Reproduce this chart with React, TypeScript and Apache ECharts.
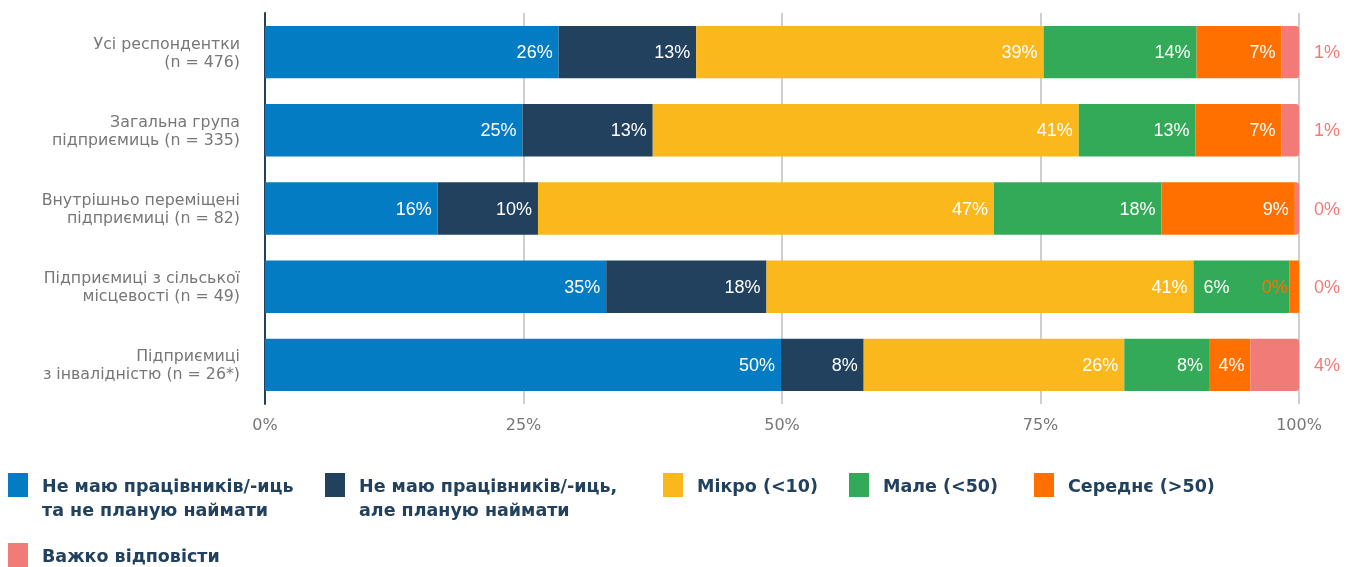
import React, { useEffect, useRef } from "react";
import * as echarts from "echarts";

const categories = [
  "Усі респондентки\n(n = 476)",
  "Загальна група\nпідприємиць (n = 335)",
  "Внутрішньо переміщені\nпідприємиці (n = 82)",
  "Підприємиці з сільської\nмісцевості (n = 49)",
  "Підприємиці\nз інвалідністю (n = 26*)",
];

const seriesNames = [
  "Не маю працівників/-иць\nта не планую наймати",
  "Не маю працівників/-иць,\nале планую наймати",
  "Мікро (<10)",
  "Мале (<50)",
  "Середнє (>50)",
  "Важко відповісти",
];

const colors = ["#047cc4", "#21415f", "#fbb81c", "#33aa57", "#ff7000", "#f17b77"];

// segment lengths as drawn
const noHireValues = [28.4, 24.9, 16.7, 33.0, 49.9];
const planHireValues = [13.3, 12.6, 9.7, 15.5, 8.0];
const microValues = [33.6, 41.2, 44.1, 41.3, 25.2];
const smallValues = [14.8, 11.3, 16.2, 9.3, 8.2];
const mediumValues = [8.2, 8.3, 12.9, 0.9, 4.0];
const hardValues = [1.7, 1.7, 0.4, 0, 4.7];

// printed labels
const noHireLabels = [26, 25, 16, 35, 50];
const planHireLabels = [13, 13, 10, 18, 8];
const microLabels = [39, 41, 47, 41, 26];
const smallLabels = [14, 13, 18, 6, 8];
const mediumLabels = [7, 7, 9, 0, 4];
const hardLabels = [1, 1, 0, 0, 4];

const xTicks = [0, 25, 50, 75, 100];

const allValues = [noHireValues, planHireValues, microValues, smallValues, mediumValues, hardValues];
const allLabels = [noHireLabels, planHireLabels, microLabels, smallLabels, mediumLabels, hardLabels];

const axisFont = '"DejaVu Sans", "Noto Sans", sans-serif';

export default function App() {
  const ref = useRef<HTMLDivElement>(null);

  useEffect(() => {
    if (!ref.current) return;
    const chart = echarts.init(ref.current, null, { renderer: "svg" });
    const last = allValues.length - 1;

    const series = allValues.map((vals, si) => {
      const isLast = si === last;
      return {
        name: seriesNames[si],
        type: "bar",
        stack: "total",
        barCategoryGap: "33%",
        itemStyle: {
          color: colors[si],
          borderRadius: isLast ? [0, 3, 3, 0] : 0,
        },
        label: {
          show: true,
          position: isLast ? "right" : "insideRight",
          distance: isLast ? 15 : 6,
          color: isLast ? "#f17b77" : "#ffffff",
          fontSize: 18,
          fontFamily: "Liberation Sans, Arial, sans-serif",
          formatter: (p: any) => allLabels[si][p.dataIndex] + "%",
        },
        data: vals.map((v, di) => {
          if (!isLast && v < 3) {
            // too thin: label sits to the left, in the segment's colour
            return { value: v, label: { position: "left", distance: 2, color: colors[si] } };
          }
          const next = si + 1 < last ? allValues[si + 1][di] : 99;
          if (!isLast && next < 3) {
            return { value: v, label: { position: "insideLeft", distance: 10 } };
          }
          return v;
        }),
      };
    });

    const legendPos = [
      { x: 8, y: 473 },
      { x: 325, y: 473 },
      { x: 663, y: 473 },
      { x: 849, y: 473 },
      { x: 1034, y: 473 },
      { x: 8, y: 543 },
    ];

    const graphic: any[] = [];
    seriesNames.forEach((name, i) => {
      const p = legendPos[i];
      graphic.push({
        type: "rect",
        shape: { x: p.x, y: p.y, width: 20, height: 24 },
        style: { fill: colors[i] },
      });
      graphic.push({
        type: "text",
        x: p.x + 34,
        y: p.y + 1,
        style: {
          text: name,
          font: 'bold 17.5px "DejaVu Sans", sans-serif',
          fill: "#21415f",
          lineHeight: 24,
          verticalAlign: "top",
        },
      });
    });

    chart.setOption({
      animation: false,
      grid: { left: 265, right: 55, top: 13, height: 391 },
      xAxis: {
        type: "value",
        min: 0,
        max: 100,
        interval: 25,
        axisLine: { show: false },
        axisTick: { show: false },
        splitLine: { lineStyle: { color: "#cfcfcf", width: 2 } },
        axisLabel: {
          formatter: (v: number) => (xTicks.includes(v) ? v + "%" : ""),
          color: "#777777",
          fontSize: 16,
          fontFamily: axisFont,
          margin: 12,
        },
      },
      yAxis: {
        type: "category",
        inverse: true,
        data: categories,
        axisLine: { show: true, lineStyle: { color: "#21415f", width: 2 } },
        axisTick: { show: false },
        axisLabel: {
          color: "#777777",
          fontSize: 15.8,
          lineHeight: 18,
          fontFamily: axisFont,
          align: "right",
          margin: 25,
        },
      },
      series,
      graphic,
    });

    return () => chart.dispose();
  }, []);

  return (
    <div
      ref={ref}
      style={{ position: "fixed", left: 0, top: 0, width: 1354, height: 567 }}
    />
  );
}
